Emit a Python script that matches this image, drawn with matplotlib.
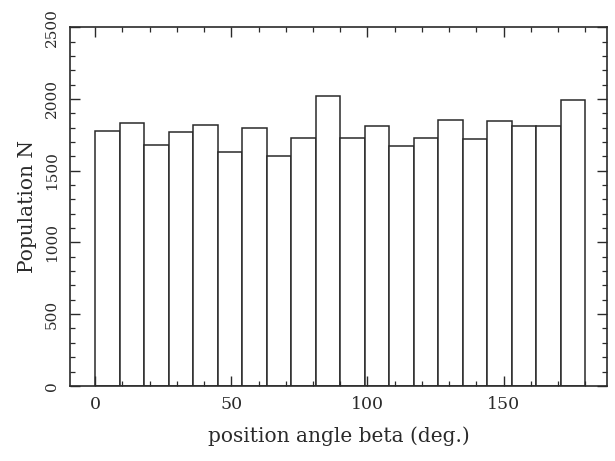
import numpy as np
import matplotlib.pyplot as plt
from matplotlib.ticker import MultipleLocator

# histogram of position angles, 9 degree bins from 0 to 180
bin_edges = np.arange(0, 181, 9)
counts = [1778, 1831, 1681, 1769, 1815, 1630, 1799, 1604, 1725, 2023,
          1725, 1808, 1671, 1731, 1854, 1718, 1843, 1808, 1808, 1991]

plt.rcParams['font.family'] = ['DejaVu Serif']

fig = plt.figure(figsize=(6.15, 4.61), dpi=100)
ax = fig.add_axes([0.114, 0.163, 0.873, 0.778])

ink = '#2a2a2a'
ax.bar(bin_edges[:-1], counts, width=9, align='edge',
       facecolor='white', edgecolor=ink, linewidth=1.1)

ax.set_xlim(-9.2, 188)
ax.set_ylim(0, 2500)
ax.xaxis.set_major_locator(MultipleLocator(50))
ax.xaxis.set_minor_locator(MultipleLocator(10))
ax.yaxis.set_major_locator(MultipleLocator(500))
ax.yaxis.set_minor_locator(MultipleLocator(100))
ax.tick_params(which='both', direction='in', top=True, right=True, color=ink)
ax.tick_params(which='major', length=7, width=1.0)
ax.tick_params(which='minor', length=3.5, width=0.9)
ax.tick_params(axis='x', labelsize=12.5, pad=7, labelcolor=ink)
ax.tick_params(axis='y', labelsize=11, pad=8, labelcolor=ink)
for lbl in ax.get_yticklabels():
    lbl.set_rotation(90)
    lbl.set_va('center')

for s in ax.spines.values():
    s.set_color(ink)
    s.set_linewidth(1.2)

ax.set_xlabel('position angle beta (deg.)', fontsize=14.5, color=ink, labelpad=10)
ax.set_ylabel('Population N', fontsize=14.5, color=ink, labelpad=6)

fig.savefig('out.png', dpi=100)
